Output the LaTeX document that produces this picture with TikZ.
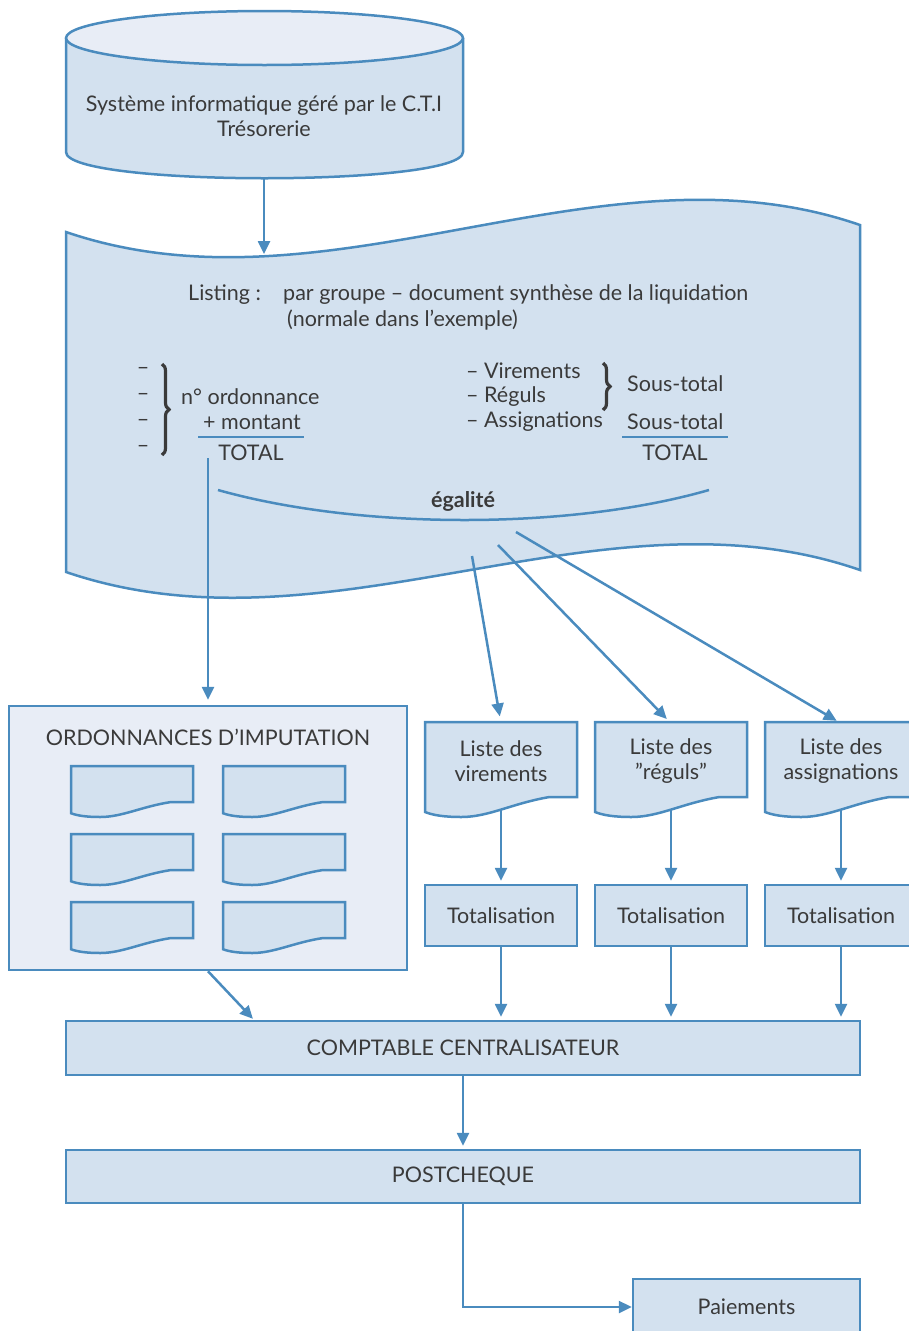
\documentclass[tikz,border=0pt]{standalone}
\usepackage{fontspec}
\setmainfont{Lato}
\usetikzlibrary{arrows.meta,calc,decorations.pathreplacing}
\definecolor{bl}{HTML}{4A8BBE}
\definecolor{fillA}{HTML}{D3E1EF}
\definecolor{fillB}{HTML}{E8EDF6}
\definecolor{txt}{HTML}{3A3A3A}
\newcommand\wavedoc[6]{%
\draw[line,fill=#6] (#1,#2) -- ({#1+#3},#2) -- ({#1+#3},{#2+#4}) -- ({#1+0.82*#3},{#2+#4})
 .. controls ({#1+0.58*#3},{#2+#4+0.3*#5}) and ({#1+0.42*#3},{#2+#4+#5}) .. ({#1+0.24*#3},{#2+#4+#5})
 .. controls ({#1+0.12*#3},{#2+#4+#5}) and ({#1+0.05*#3},{#2+#4+0.9*#5}) .. (#1,{#2+#4+0.75*#5}) -- cycle;}
\begin{document}
\begin{tikzpicture}[x=1pt,y=-1pt,
  line/.style={draw=bl,line width=2.5pt},
  arr/.style={draw=bl,line width=2.5pt,-{Triangle[length=13pt,width=12pt]},shorten >=3pt},
  lbl/.style={text=txt,font=\fontsize{21.5}{25.5}\selectfont,inner sep=0pt},
  box/.style={lbl,draw=bl,line width=2.5pt,fill=fillA,align=center},
  brc/.style={draw=txt,line width=3.2pt,decorate,decoration={brace,amplitude=7pt}}
]
\useasboundingbox (0,0) rectangle (909,1331);
\clip (0,0) rectangle (909,1331);
% cylinder
\draw[line,fill=fillA] (66,38) -- (66,152) .. controls (66,187) and (463,187) .. (463,152) -- (463,38);
\draw[line,fill=fillB] (264.5,38) ellipse [x radius=198.5, y radius=27];
\node[lbl,align=center] (cyl) at (264,116) {Système informatique géré par le C.T.I\\Trésorerie};
\coordinate (cylbot) at (264,179);
% listing document
\draw[line,fill=fillA] (66,232) .. controls (330,322) and (600,135) .. (860,225) -- (860,570)
  .. controls (600,480) and (330,662) .. (66,572) -- cycle;
\coordinate (lsttop) at (264,257);
\draw[arr] (cylbot) -- (lsttop);
\node[lbl,anchor=west] (listing) at (188,295) {Listing :};
\node[lbl,anchor=west] (pg) at (283,295) {par groupe – document synthèse de la liquidation};
\node[lbl,anchor=west] (norm) at (287,320) {(normale dans l’exemple)};
\foreach \y/\n in {371/d1,397/d2,423/d3,449/d4} \node[lbl] (\n) at (143,\y) {–};
\draw[brc] (162,364) -- (162,455);
\node[lbl,anchor=west] (nord) at (181,397) {n° ordonnance};
\node[lbl,anchor=west] (mont) at (203,422) {+ montant};
\draw[line] (198,437) -- (304,437);
\node[lbl] (tot1) at (251,453) {TOTAL};
\node[lbl,anchor=west] (vir) at (466,371) {– Virements};
\node[lbl,anchor=west] (reg) at (466,397) {– Réguls};
\node[lbl,anchor=west] (ass) at (466,422) {– Assignations};
\draw[brc] (603,363) -- (603,410);
\node[lbl,anchor=west] (st1) at (627,384) {Sous-total};
\node[lbl,anchor=west] (st2) at (627,422) {Sous-total};
\draw[line] (622,437) -- (728,437);
\node[lbl] (tot2) at (675,453) {TOTAL};
\draw[line] (218,490) .. controls (360,530) and (570,530) .. (709,490);
\node[lbl,font=\fontsize{21.5}{25.5}\selectfont\bfseries] (eg) at (463,501) {égalité};
\coordinate (s1) at (208,458);
\coordinate (s2) at (472,556);
\coordinate (s3) at (498,545);
\coordinate (s4) at (516,532);
% ordonnances
\node[box,fill=fillB,minimum width=398pt,minimum height=264pt] (ord) at (208,838) {};
\node[lbl] (ordt) at (208,737) {ORDONNANCES D’IMPUTATION};
\foreach \xx in {71,223} \foreach \yy in {766,834,902} {\wavedoc{\xx}{\yy}{122}{36}{15}{fillA}}
\draw[arr,shorten >=5pt] (s1) -- (ord.north);
% listes
\foreach \xx in {425,595,765} {\wavedoc{\xx}{722}{152}{75}{20}{fillA}}
\node[lbl,align=center,minimum width=152pt,minimum height=75pt] (lv) at (501,761) {Liste des\\virements};
\node[lbl,align=center,minimum width=152pt,minimum height=75pt] (lr) at (671,761) {Liste des\\”réguls”};
\node[lbl,align=center,minimum width=152pt,minimum height=75pt] (la) at (841,761) {Liste des\\assignations};
\coordinate (lvb) at (501,809);
\coordinate (lrb) at (671,809);
\coordinate (lab) at (841,809);
\draw[arr,shorten >=7pt] (s2) -- (lv.north);
\draw[arr,shorten >=6pt] (s3) -- (lr.north);
\draw[arr,shorten >=5pt] (s4) -- (la.north);
% totalisation
\node[box,minimum width=152pt,minimum height=61pt] (tv) at (501,915.5) {Totalisation};
\node[box,minimum width=152pt,minimum height=61pt] (tr) at (671,915.5) {Totalisation};
\node[box,minimum width=152pt,minimum height=61pt] (ta) at (841,915.5) {Totalisation};
\draw[arr] (lvb) -- (tv.north);
\draw[arr] (lrb) -- (tr.north);
\draw[arr] (lab) -- (ta.north);
% comptable
\node[box,minimum width=794pt,minimum height=54pt] (comp) at (463,1048) {COMPTABLE CENTRALISATEUR};
\coordinate (c1) at (255,1021);
\draw[arr] (ord.south) -- (c1);
\draw[arr] (tv.south) -- (tv.south |- comp.north);
\draw[arr] (tr.south) -- (tr.south |- comp.north);
\draw[arr] (ta.south) -- (ta.south |- comp.north);
% postcheque
\node[box,minimum width=794pt,minimum height=53pt] (post) at (463,1176.5) {POSTCHEQUE};
\draw[arr] (comp.south) -- (post.north);
\node[box,minimum width=227pt,minimum height=56pt] (pai) at (746.5,1307) {Paiements};
\draw[arr,shorten >=0pt] (post.south) |- (pai.west);
\end{tikzpicture}
\end{document}
